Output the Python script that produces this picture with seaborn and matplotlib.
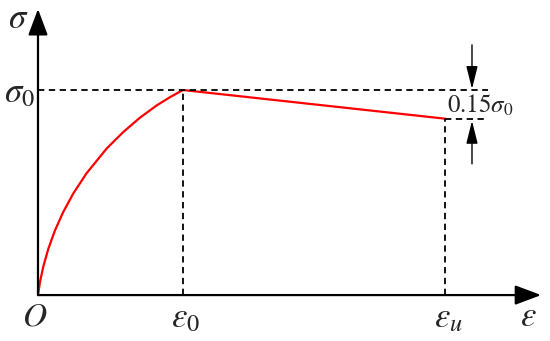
import numpy as np
import pandas as pd
import seaborn as sns
import matplotlib.pyplot as plt

sns.set_style("white")
plt.rcParams["mathtext.fontset"] = "stix"

# strain in units of eps0, stress in units of sigma0
strain_rise = [0.0, 0.014, 0.037, 0.071, 0.117, 0.174, 0.243, 0.336,
               0.474, 0.588, 0.703, 0.819, 0.910, 1.0]
stress_rise = [0.0, 0.065, 0.140, 0.225, 0.315, 0.405, 0.495, 0.595,
               0.715, 0.795, 0.865, 0.925, 0.965, 1.0]
strain_fall = [1.0, 2.81]
stress_fall = [1.0, 0.86]

eps0 = 1.0
eps_u = 2.81
sig_end = 0.86

curve = pd.DataFrame({
    "strain": strain_rise + strain_fall[1:],
    "stress": stress_rise + stress_fall[1:],
})

fig = plt.figure(figsize=(5.5, 3.41), dpi=100)
ax = fig.add_axes([0, 0, 1, 1])
ax.set_xlim(-0.262, 3.531)
ax.set_ylim(-0.224, 1.439)
ax.axis("off")

sns.lineplot(data=curve, x="strain", y="stress", color="red", lw=1.6,
             sort=False, ax=ax)

# axes with arrows
ax.annotate("", xy=(3.47, 0), xytext=(0, 0),
            arrowprops=dict(arrowstyle="-|>,head_length=0.8,head_width=0.3",
                            mutation_scale=20, lw=1.6, color="k",
                            shrinkA=0, shrinkB=0))
ax.annotate("", xy=(0, 1.395), xytext=(0, 0),
            arrowprops=dict(arrowstyle="-|>,head_length=0.8,head_width=0.3",
                            mutation_scale=20, lw=1.6, color="k",
                            shrinkA=0, shrinkB=0))

# dashed guides
dash = dict(color="k", lw=1.3, ls=(0, (3.5, 2.5)))
ax.plot([0, 3.1], [1, 1], **dash)
ax.plot([eps0, eps0], [0, 1], **dash)
ax.plot([eps_u, eps_u], [0, sig_end], **dash)
ax.plot([eps_u, 3.1], [sig_end, sig_end], **dash)

# dimension arrows
dim_x = 2.993
thin = dict(arrowstyle="-|>,head_length=1.0,head_width=0.25",
            mutation_scale=14, lw=1.0, color="k", shrinkA=0, shrinkB=0)
ax.annotate("", xy=(dim_x, 1.005), xytext=(dim_x, 1.22), arrowprops=thin)
ax.annotate("", xy=(dim_x, sig_end - 0.01), xytext=(dim_x, 0.64), arrowprops=thin)

ax.text(2.82, 0.925, r"$\mathrm{0.15}\sigma_0$", fontsize=18, ha="left", va="center")

# labels
ax.text(-0.135, 1.35, r"$\sigma$", fontsize=25, ha="center", va="center")
ax.text(-0.125, 0.99, r"$\sigma_0$", fontsize=25, ha="center", va="center")
ax.text(-0.02, -0.1, r"$O$", fontsize=24, ha="center", va="center")
ax.text(eps0 + 0.02, -0.11, r"$\varepsilon_0$", fontsize=25, ha="center", va="center")
ax.text(eps_u + 0.02, -0.11, r"$\varepsilon_u$", fontsize=25, ha="center", va="center")
ax.text(3.38, -0.1, r"$\varepsilon$", fontsize=25, ha="center", va="center")

fig.savefig("out.png", dpi=100)
